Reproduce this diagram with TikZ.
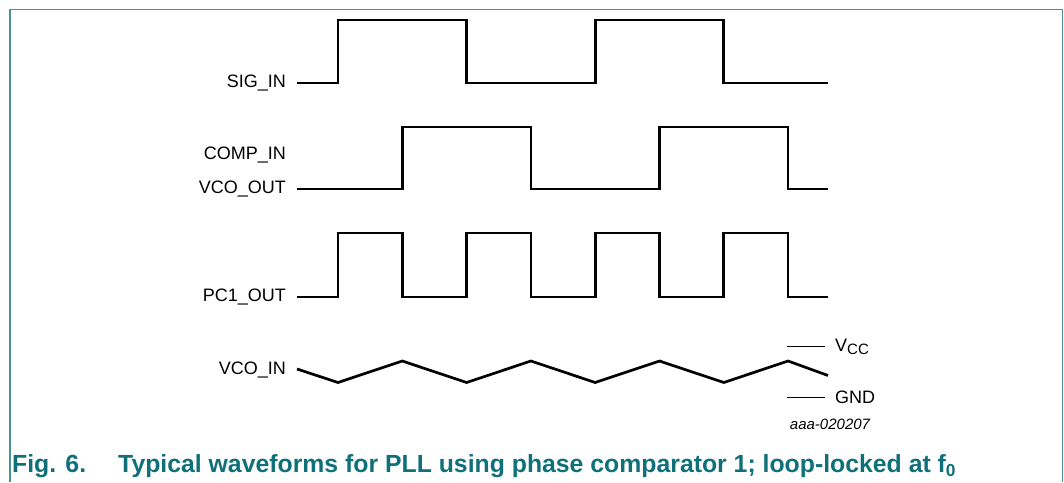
\documentclass[tikz,border=0pt]{standalone}
\usepackage{fontspec}
\setmainfont{Liberation Sans}
\usetikzlibrary{calc}
\usetikzlibrary{positioning}
\definecolor{capteal}{RGB}{16,112,122}
\definecolor{frameteal}{RGB}{72,146,146}

\begin{document}
\begin{tikzpicture}[x=1pt,y=-1pt,
  wave/.style={line width=2.7pt,line join=miter},
  lvl/.style={line width=1pt},
  lbl/.style={anchor=east,inner sep=0pt,font=\fontsize{18}{21}\selectfont},
  rlbl/.style={anchor=west,inner sep=0pt,font=\fontsize{18}{21}\selectfont},
  figcap/.style={anchor=west,inner sep=0pt,text=capteal,font=\fontsize{24.8}{28}\selectfont\bfseries}]
\useasboundingbox (0,0) rectangle (1064,482);
% frame round the figure
\draw[frameteal,line width=1.3pt] (10,482) -- (10,9.5) -- (1062.5,9.5) -- (1062.5,482);

% signal names
\node[lbl] (sigin) at (286,83) {SIG\_IN};
\node[lbl] (compin) at (286,155) {COMP\_IN};
\node[lbl] (vcoout) at (286,189) {VCO\_OUT};
\node[lbl] (pcout) at (286,297) {PC1\_OUT};
\node[lbl] (vcoin) at (286,370) {VCO\_IN};

% SIG_IN
\draw[wave] (297,83) -| (338,20) -| (466.6,83) -| (595.2,20) -| (723.8,83) -- (828,83);
% COMP_IN / VCO_OUT
\draw[wave] (297,189) -| (402.3,127) -| (530.9,189) -| (659.5,127) -| (788.1,189) -- (828,189);
% PC1_OUT
\draw[wave] (297,297) -| (338,233) -| (402.3,297) -| (466.6,233) -| (530.9,297)
  -| (595.2,233) -| (659.5,297) -| (723.8,233) -| (788.1,297) -- (828,297);
% VCO_IN ripple
\draw[wave] (297,369) -- (338,382.5) -- (402.3,361) -- (466.6,382.5) -- (530.9,361)
  -- (595.2,382.5) -- (659.5,361) -- (723.8,382.5) -- (788.1,361) -- (828,375.5);

% supply levels
\coordinate (vccl) at (787,346);
\coordinate (gndl) at (787,397);
\node[rlbl] (vcc) at (835,347) {V\raisebox{-0.3ex}{\fontsize{15}{15}\selectfont CC}};
\node[rlbl] (gnd) at (835,397) {GND};
\draw[lvl] (vccl) -- ++(38,0);
\draw[lvl] (gndl) -- ++(38,0);
\node[inner sep=0pt,font=\fontsize{15}{18}\selectfont\itshape] (code) at (830,424) {aaa-020207};

% caption
\node[figcap] (fignum) at (12,466) {Fig. 6.};
\node[figcap] (figtxt) at (118,466) {Typical waveforms for PLL using phase comparator 1; loop-locked at f\textsubscript{0}};
\end{tikzpicture}
\end{document}
